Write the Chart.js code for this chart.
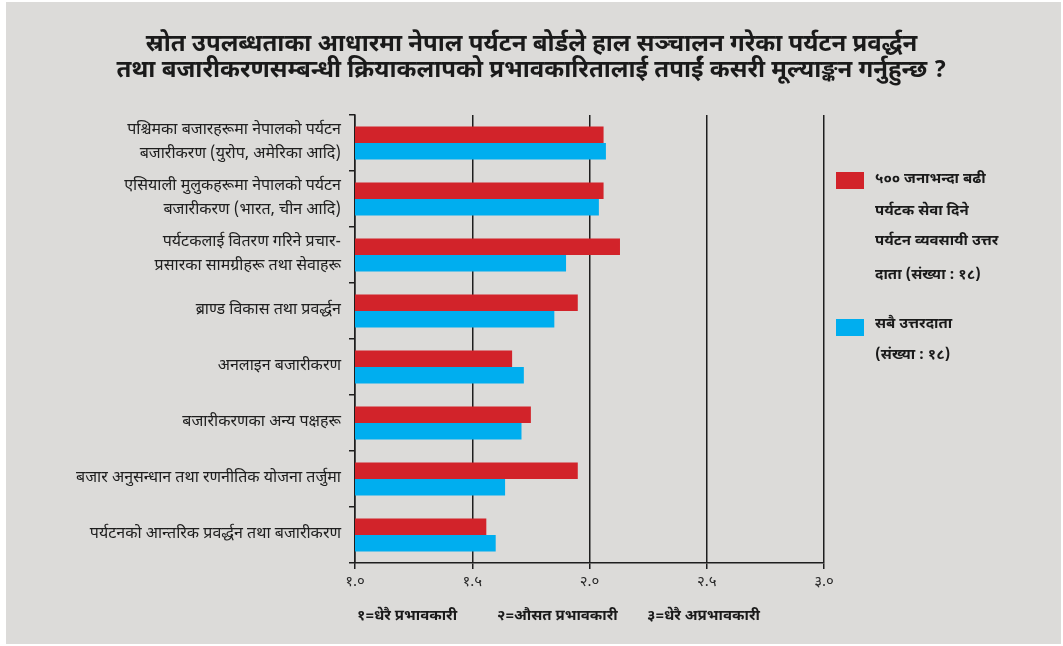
<!DOCTYPE html>
<html>
<head>
<meta charset="utf-8">
<script src="https://cdn.jsdelivr.net/npm/chart.js@4"></script>
<style>
    body { margin: 0; background: #fff; font-family: "Noto Sans Devanagari", "Lohit Devanagari", "FreeSans", "Noto Sans", sans-serif; }
    #frame { position: absolute; left: 6px; top: 2px; width: 1055px; height: 642px; background: #dcdbd9; }
    #chart { position: absolute; left: 0; top: 0; }
    .title { position: absolute; left: 0; width: 1063px; text-align: center; font-weight: bold; font-size: 24px; line-height: 30px; color: #1a1a1a; }
    .leg { position: absolute; font-weight: bold; font-size: 15px; line-height: 20px; color: #1a1a1a; white-space: nowrap; }
    .box { position: absolute; width: 28px; height: 17px; }
    .note { position: absolute; top: 607px; font-weight: bold; font-size: 15px; line-height: 20px; color: #1a1a1a; white-space: nowrap; }
</style>
</head>
<body>
<div id="frame"></div>
<canvas id="chart" width="1063" height="646"></canvas>

<div class="title" style="top:30px">स्रोत उपलब्धताका आधारमा नेपाल पर्यटन बोर्डले हाल सञ्चालन गरेका पर्यटन प्रवर्द्धन</div>
<div class="title" style="top:56px">तथा बजारीकरणसम्बन्धी क्रियाकलापको प्रभावकारितालाई तपाईं कसरी मूल्याङ्कन गर्नुहुन्छ ?</div>

<div class="box" style="left:836px; top:172px; background:#d2232a"></div>
<div class="leg" style="left:875px; top:170px">५०० जनाभन्दा बढी</div>
<div class="leg" style="left:875px; top:202px">पर्यटक सेवा दिने</div>
<div class="leg" style="left:875px; top:232px">पर्यटन व्यवसायी उत्तर</div>
<div class="leg" style="left:875px; top:266px">दाता (संख्या : १८)</div>
<div class="box" style="left:836px; top:319px; background:#00aeef"></div>
<div class="leg" style="left:875px; top:315px">सबै उत्तरदाता</div>
<div class="leg" style="left:875px; top:346px">(संख्या : १८)</div>

<div class="note" style="left:357px">१=धेरै प्रभावकारी</div>
<div class="note" style="left:497px">२=औसत प्रभावकारी</div>
<div class="note" style="left:647px">३=धेरै अप्रभावकारी</div>

<script>
// Categories (top to bottom)
const categories = [
    ['पश्चिमका बजारहरूमा नेपालको पर्यटन', 'बजारीकरण (युरोप, अमेरिका आदि)'],
    ['एसियाली मुलुकहरूमा नेपालको पर्यटन', 'बजारीकरण (भारत, चीन आदि)'],
    ['पर्यटकलाई वितरण गरिने प्रचार-', 'प्रसारका सामग्रीहरू तथा सेवाहरू'],
    'ब्राण्ड विकास तथा प्रवर्द्धन',
    'अनलाइन बजारीकरण',
    'बजारीकरणका अन्य पक्षहरू',
    'बजार अनुसन्धान तथा रणनीतिक योजना तर्जुमा',
    'पर्यटनको आन्तरिक प्रवर्द्धन तथा बजारीकरण'
];

// Series values
const over500Values = [2.06, 2.06, 2.13, 1.95, 1.67, 1.75, 1.95, 1.56];
const allValues = [2.07, 2.04, 1.90, 1.85, 1.72, 1.71, 1.64, 1.60];

// X tick labels in Devanagari numerals
const tickValues = [1.0, 1.5, 2.0, 2.5, 3.0];
const tickLabels = ['१.०', '१.५', '२.०', '२.५', '३.०'];

const fontFamily = '"Noto Sans Devanagari", "Lohit Devanagari", "FreeSans", "Noto Sans", sans-serif';
const axisColor = '#1e1e1e';

new Chart(document.getElementById('chart'), {
    type: 'bar',
    data: {
        labels: categories,
        datasets: [{
            label: '५०० जनाभन्दा बढी पर्यटक सेवा दिने पर्यटन व्यवसायी उत्तरदाता (संख्या : १८)',
            data: over500Values,
            backgroundColor: '#d2232a',
            categoryPercentage: 0.59,
            barPercentage: 1.0
        }, {
            label: 'सबै उत्तरदाता (संख्या : १८)',
            data: allValues,
            backgroundColor: '#00aeef',
            categoryPercentage: 0.59,
            barPercentage: 1.0
        }]
    },
    options: {
        indexAxis: 'y',
        responsive: false,
        animation: false,
        layout: { padding: { left: 0, right: 239, top: 115, bottom: 0 } },
        plugins: {
            legend: { display: false },
            tooltip: { enabled: false }
        },
        scales: {
            x: {
                min: 1,
                max: 3,
                afterBuildTicks: (scale) => { scale.ticks = tickValues.map(v => ({ value: v })); },
                afterFit: (scale) => { scale.height = 83; },
                grid: { color: axisColor, lineWidth: 1.5, tickLength: 6, drawOnChartArea: true },
                border: { color: axisColor, width: 1.5 },
                ticks: {
                    color: '#2a2a2a',
                    padding: 5,
                    font: { family: fontFamily, size: 15 },
                    callback: (value) => tickLabels[tickValues.indexOf(value)]
                }
            },
            y: {
                afterFit: (scale) => { scale.width = 355; },
                grid: { color: axisColor, lineWidth: 1.5, tickLength: 6, drawOnChartArea: false },
                border: { color: axisColor, width: 1.5 },
                ticks: {
                    color: '#1e1e1e',
                    padding: 8,
                    font: { family: fontFamily, size: 16, lineHeight: 1.55 }
                }
            }
        }
    }
});
</script>
</body>
</html>
